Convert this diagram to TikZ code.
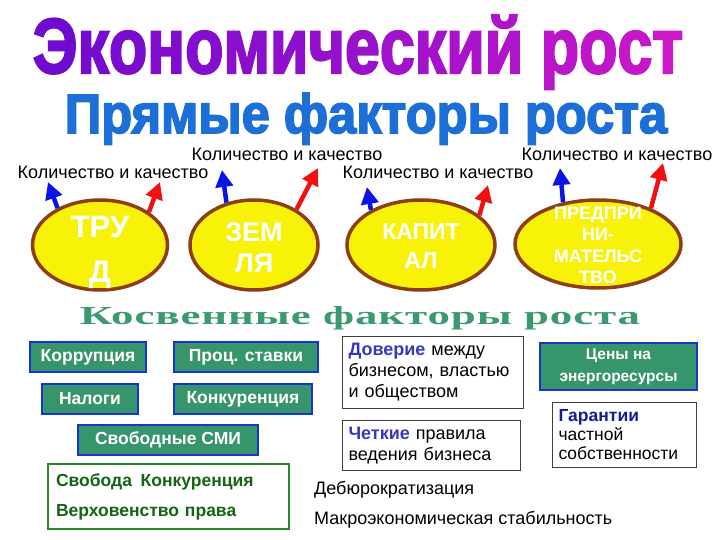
\documentclass[tikz,border=0pt]{standalone}
\usepackage{fontspec}
\usepackage{graphicx}
\setmainfont{Liberation Sans}
\newfontfamily\heavyfont[FakeBold=3]{Liberation Sans Bold}
\newfontfamily\serifwide[LetterSpace=2]{Liberation Serif Bold}
\usetikzlibrary{shapes.geometric,arrows.meta}
\definecolor{titlevio}{HTML}{6A0ACF}
\definecolor{titlemag}{HTML}{CC18C8}
\definecolor{subblue}{HTML}{1C6FD6}
\definecolor{egg}{HTML}{F8F208}
\definecolor{rim}{HTML}{8E3F12}
\definecolor{indgreen}{HTML}{3A9A6E}
\definecolor{boxgreen}{HTML}{36956A}
\definecolor{boxblue}{HTML}{1634D2}
\definecolor{wordblue}{HTML}{3838BE}
\definecolor{guarblue}{HTML}{1A1A96}
\definecolor{darkgreen}{HTML}{146414}
\definecolor{framegreen}{HTML}{2A8A2A}
\definecolor{upblue}{HTML}{0A14E6}
\definecolor{upred}{HTML}{F01010}

\begin{document}
\begin{tikzpicture}[x=1pt, y=-1pt,
		factor/.style={draw=rim, line width=3.5pt, fill=egg, ellipse, inner sep=0pt},
		eggtext/.style={text=white, align=center, inner sep=0pt},
		kk/.style={font=\fontsize{18}{20}\selectfont},
		up/.style={line width=4.5pt, -{Triangle[length=17pt,width=17pt]}},
		gbox/.style={draw=boxblue, line width=2pt, fill=boxgreen, text=white, font=\bfseries\fontsize{17.5}{20}\selectfont, minimum height=30pt, inner sep=0pt},
		wbox/.style={draw=black!75, line width=1pt, fill=white, anchor=north west, align=left, inner xsep=6pt, inner ysep=0pt, font=\fontsize{18}{21}\selectfont}]
				\useasboundingbox (0,0) rectangle (720,540);
				% titles
				\node[anchor=base] (title)at(358,73) {\resizebox{650pt}{58pt}{\heavyfont\foreach \ch [count=\n] in {Э,к,о,н,о,м,и,ч,е,с,к,и,й,{\ },р,о,с,т} {\pgfmathtruncatemacro\p{\n*5.5}\textcolor{titlemag!\p!titlevio}{\ch}}}};
				\node[anchor=base, text=subblue] (direct)at(366,133) {\resizebox{602pt}{40pt}{\heavyfont Прямые факторы роста}};
				% direct factors
				\node[kk] (kq1)at(113,172) {Количество и качество};
				\node[kk] (kq2)at(287,154) {Количество и качество};
				\node[kk] (kq3)at(438,172) {Количество и качество};
				\node[kk] (kq4)at(617,154) {Количество и качество};
				\node[factor, minimum width=135pt, minimum height=90pt, label={[eggtext, font=\bfseries\fontsize{31}{45}\selectfont, yshift=-7pt]center:{ТРУ\\Д}}] (trud)at(100,245) {};
				\node[factor, minimum width=128pt, minimum height=90pt, label={[eggtext, font=\bfseries\fontsize{27}{31}\selectfont, yshift=-3pt]center:{ЗЕМ\\ЛЯ}}] (zemlya)at(254,245) {};
				\node[factor, minimum width=148pt, minimum height=90pt, label={[eggtext, font=\bfseries\fontsize{23}{29}\selectfont, yshift=-1.5pt]center:{КАПИТ\\АЛ}}] (kapital)at(421,245) {};
				\node[factor, minimum width=166pt, minimum height=88pt, label={[eggtext, font=\bfseries\fontsize{18}{21.3}\selectfont, yshift=-1.5pt]center:{ПРЕДПРИ\\НИ-\\МАТЕЛЬС\\ТВО}}] (predpr)at(598,244) {};
				\coordinate (trudb)at(48,182);
				\coordinate (trudr)at(160,182);
				\coordinate (zemlyab)at(222,170);
				\coordinate (zemlyar)at(318,168);
				\coordinate (kapitalb)at(367,187);
				\coordinate (kapitalr)at(488,185);
				\coordinate (predprb)at(560,168);
				\coordinate (predprr)at(663,163);
				\draw[up, upblue] (trud.139) -- (trudb);
				\draw[up, upred] (trud.34) -- (trudr);
				\draw[up, upblue] (zemlya.123) -- (zemlyab);
				\draw[up, upred] (zemlya.40) -- (zemlyar);
				\draw[up, upblue] (kapital.145) -- (kapitalb);
				\draw[up, upred] (kapital.27) -- (kapitalr);
				\draw[up, upblue] (predpr.130) -- (predprb);
				\draw[up, upred] (predpr.34) -- (predprr);
				% indirect factors
				\node[anchor=base, text=indgreen] (indirect)at(360,324) {\resizebox{560pt}{18pt}{\serifwide Косвенные факторы роста}};
				\node[gbox, minimum width=116pt] (corr)at(88,357) {Коррупция};
				\node[gbox, minimum width=144pt] (rates)at(246,357) {Проц. ставки};
				\node[gbox, minimum width=96pt] (tax)at(90,399) {Налоги};
				\node[gbox, minimum width=138pt] (comp)at(243,399) {Конкуренция};
				\node[gbox, minimum width=180pt] (media)at(168,440) {Свободные СМИ};
				\node[gbox, minimum width=157pt, minimum height=47pt, align=center, font=\bfseries\fontsize{15.5}{22}\selectfont] (energy)at(618.5,366.5) {Цены на\\энергоресурсы};
				\node[wbox, text width=169pt, minimum height=72pt] (trust)at(342,336) {\textcolor{wordblue}{\bfseries Доверие} между\\бизнесом, властью\\и обществом};
				\node[wbox, text width=166pt, minimum height=50pt] (rules)at(342,420) {\textcolor{wordblue}{\bfseries Четкие} правила\\ведения бизнеса};
				\node[wbox, text width=132pt, minimum height=65pt, font=\fontsize{17.5}{19}\selectfont] (property)at(552,402) {\textcolor{guarblue}{\bfseries Гарантии}\\частной\\собственности};
				\node[wbox, draw=framegreen, line width=2pt, text=darkgreen, inner xsep=8pt, text width=225pt, minimum height=65pt, font=\bfseries\fontsize{17.5}{30}\selectfont] (freedom)at(47,463) {Свобода\enspace Конкуренция\\Верховенство права};
				\node[anchor=west, inner sep=0pt, kk] (debur)at(314,490) {Дебюрократизация};
				\node[anchor=west, inner sep=0pt, kk] (macro)at(314,520) {Макроэкономическая стабильность};
		\end{tikzpicture}
\end{document}
